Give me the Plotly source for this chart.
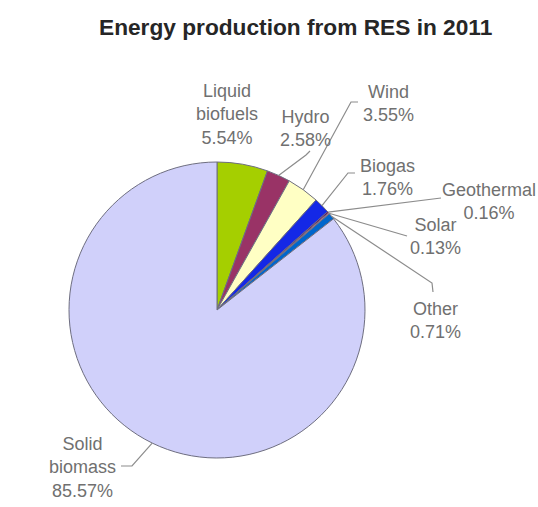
import math
import plotly.graph_objects as go

# ---- data ----
labels = ["Liquid biofuels", "Hydro", "Wind", "Biogas", "Geothermal", "Solar", "Other", "Solid biomass"]
values = [5.54, 2.58, 3.55, 1.76, 0.16, 0.13, 0.71, 85.57]
label_text = ["Liquid<br>biofuels<br>5.54%", "Hydro<br>2.58%", "Wind<br>3.55%", "Biogas<br>1.76%",
              "Geothermal<br>0.16%", "Solar<br>0.13%", "Other<br>0.71%", "Solid<br>biomass<br>85.57%"]
colors = ["#A5CF00", "#993366", "#FFFFC4", "#1428E6", "#660066", "#FF8080", "#0066CC", "#D0D0FA"]

W, H = 538, 507
CX, CY, R = 217, 310, 148

# label layout (pixels): centre of text block
label_pos = [(227, 114), (305, 129), (388, 104), (387, 177), (489, 201), (435, 237), (435, 320), (82, 467)]
# leader line label-side points (pixels); None = no leader
leader_pts = [None,
              [(310, 151), (306, 155)],
              [(358, 102), (351, 102)],
              [(355, 173), (348, 173)],
              [(441, 198)],
              [(407, 236)],
              [(433, 292), (432, 283)],
              [(121, 466), (132, 466)]]

def px(x):
    return x / W

def py(y):
    return 1 - y / H

fig = go.Figure(go.Pie(
    labels=labels, values=values, sort=False, direction="clockwise", rotation=0,
    marker=dict(colors=colors, line=dict(color="#6E6E80", width=1)),
    textinfo="none", hoverinfo="label+percent", showlegend=False,
    domain=dict(x=[px(CX - R), px(CX + R)], y=[py(CY + R), py(CY - R)]),
))

# anchors at slice midpoints computed from the data
total = sum(values)
cum = 0
anchors = []
for v in values:
    mid = (cum + v / 2) / total
    th = 2 * math.pi * mid
    anchors.append((CX + R * math.sin(th), CY - R * math.cos(th)))
    cum += v

shapes = []
for pts, anc in zip(leader_pts, anchors):
    if pts is None:
        continue
    allp = pts + [anc]
    path = "M " + " L ".join(f"{px(x):.5f},{py(y):.5f}" for x, y in allp)
    shapes.append(dict(type="path", xref="paper", yref="paper", path=path,
                       line=dict(color="#8C8C8C", width=1.2)))

annotations = []
for t, (x, y) in zip(label_text, label_pos):
    annotations.append(dict(text=t, x=px(x), y=py(y), xref="paper", yref="paper",
                            xanchor="center", yanchor="middle", showarrow=False, align="center",
                            font=dict(family="Arial, Liberation Sans", size=18, color="#707070")))

annotations.append(dict(text="<b>Energy production from RES in 2011</b>", x=px(295), y=py(27),
                        xref="paper", yref="paper", xanchor="center", yanchor="middle",
                        showarrow=False,
                        font=dict(family="Arial, Liberation Sans", size=22.7, color="#262626")))

fig.update_layout(width=W, height=H, margin=dict(l=0, r=0, t=0, b=0),
                  paper_bgcolor="white", plot_bgcolor="white",
                  shapes=shapes, annotations=annotations)

fig.write_html("out.html")
